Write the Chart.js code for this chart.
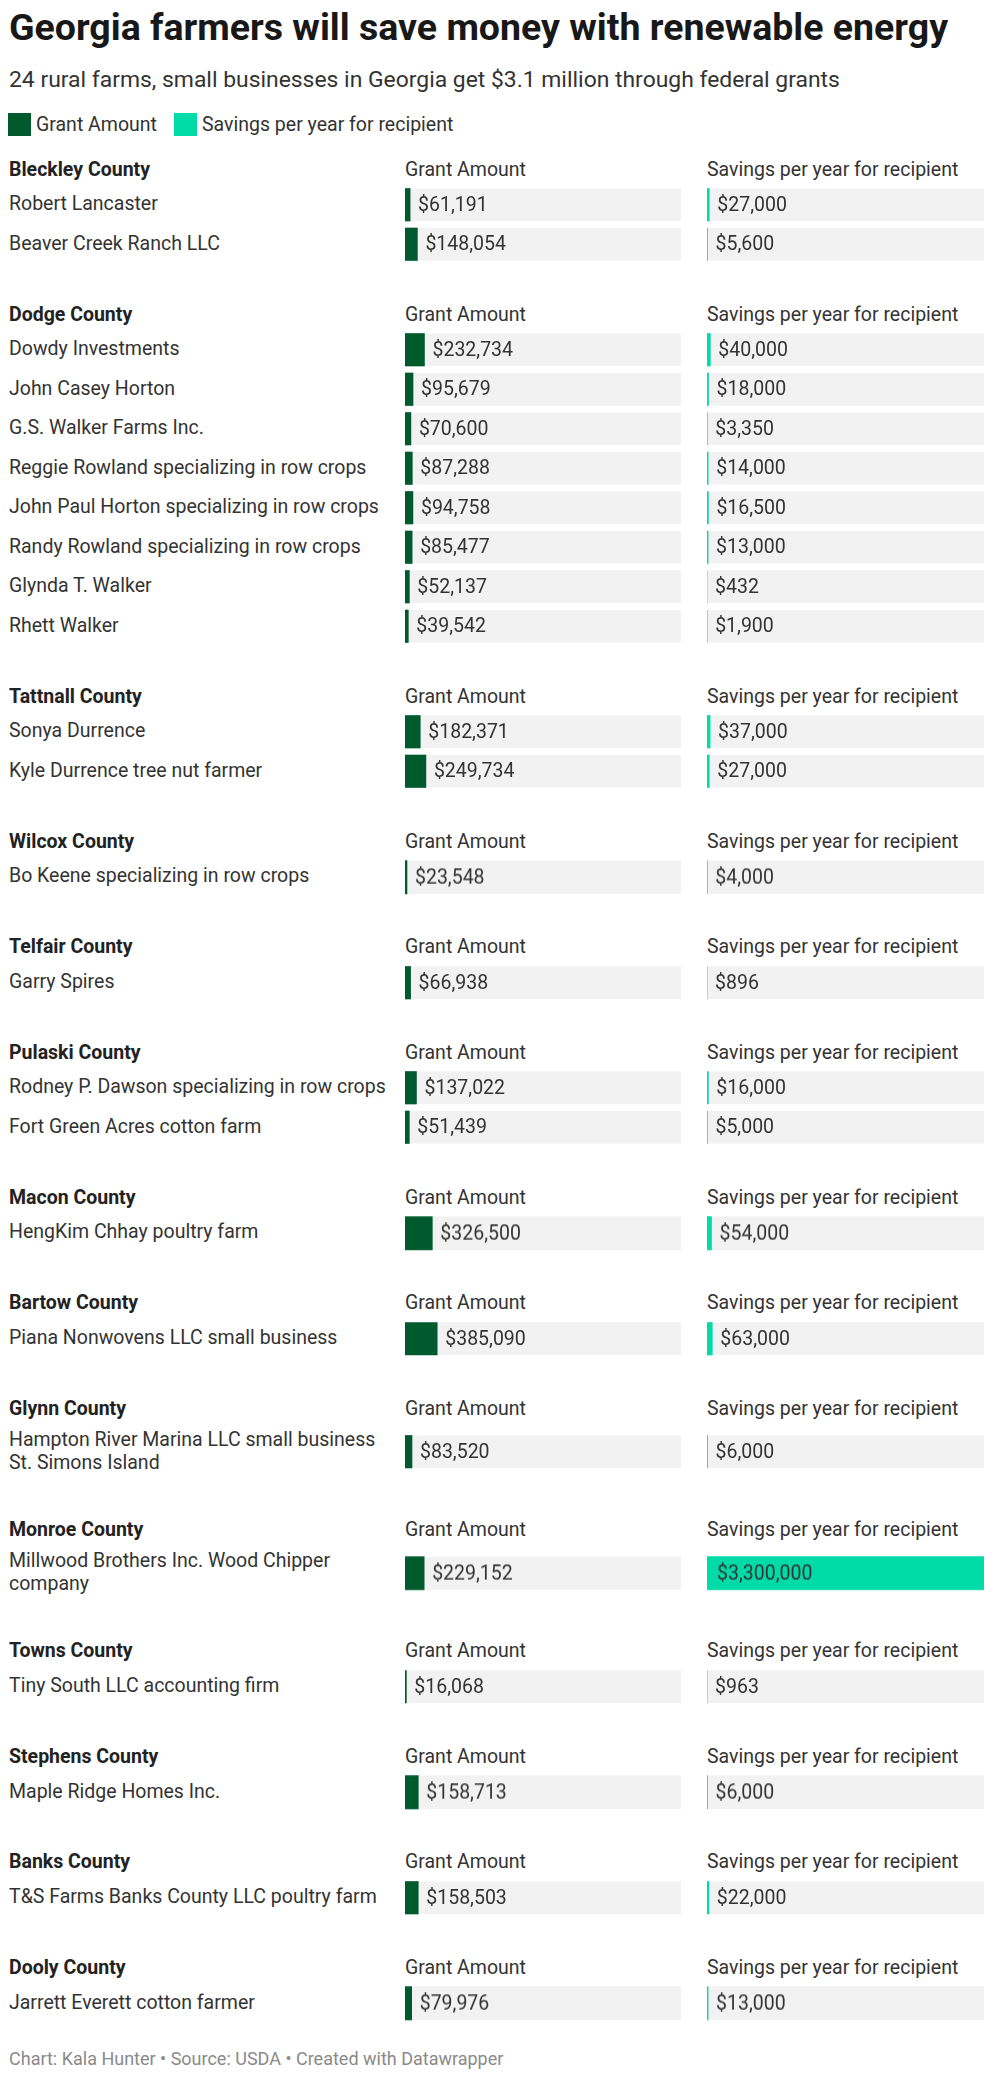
<!DOCTYPE html>
<html>
<head>
<meta charset="utf-8">
<script src="https://cdn.jsdelivr.net/npm/chart.js@4"></script>
<style>
    body { margin: 0; background: #fff; font-family: Roboto, sans-serif; color: #333; }
    #page { position: relative; width: 1000px; height: 2080px; overflow: hidden; }
    .title { position: absolute; left: 9px; top: 5px; font-size: 37.5px; font-weight: 700; line-height: 44px; color: #181818; white-space: nowrap; }
    .subtitle { position: absolute; left: 9px; top: 66px; font-size: 22.9px; line-height: 28px; color: #333; white-space: nowrap; }
    .legend { position: absolute; left: 8px; top: 113px; height: 23px; font-size: 19.5px; line-height: 23px; color: #333; }
    .legend span.sw { position: absolute; top: 0; width: 23px; height: 23px; }
    .legend span.tx { position: absolute; top: 0; white-space: nowrap; }
    #sections { position: absolute; left: 0; top: 153.5px; width: 1000px; }
    .section { margin-bottom: 34.5px; }
    .shead { position: relative; height: 31.5px; line-height: 31.5px; font-size: 19.5px; }
    .shead .county { position: absolute; left: 9px; font-weight: 700; color: #222; }
    .shead .ch { position: absolute; white-space: nowrap; color: #333; }
    .c1 { left: 405px; }
    .c2 { left: 707px; }
    .sbody { position: relative; }
    .labels { margin-left: 9px; width: 386px; }
    .row { display: flex; align-items: center; box-sizing: border-box; min-height: 39.5px; padding: 5px 0; font-size: 19.5px; line-height: 22.7px; color: #333; }
    .cwrap { position: absolute; top: 0; bottom: 0; }
    .cwrap.c1 { width: 276px; }
    .cwrap.c2 { width: 277px; }
    .footer { position: relative; font-size: 18px; line-height: 20px; color: #8a8a8a; padding-left: 9px; margin-top: -8px; white-space: nowrap; }
</style>
</head>
<body>
<div id="page">
    <div class="title">Georgia farmers will save money with renewable energy</div>
    <div class="subtitle">24 rural farms, small businesses in Georgia get $3.1 million through federal grants</div>
    <div class="legend">
        <span class="sw" style="left:0;background:#005a2e"></span><span class="tx" style="left:28px">Grant Amount</span>
        <span class="sw" style="left:166px;background:#00dba7"></span><span class="tx" style="left:194px">Savings per year for recipient</span>
    </div>
    <div id="sections"></div>
</div>

<script>
const counties = ['Bleckley County', 'Dodge County', 'Tattnall County', 'Wilcox County', 'Telfair County',
    'Pulaski County', 'Macon County', 'Bartow County', 'Glynn County', 'Monroe County',
    'Towns County', 'Stephens County', 'Banks County', 'Dooly County'];

// county index for each recipient
const countyOf = [0, 0, 1, 1, 1, 1, 1, 1, 1, 1, 2, 2, 3, 4, 5, 5, 6, 7, 8, 9, 10, 11, 12, 13];

const recipients = [
    'Robert Lancaster', 'Beaver Creek Ranch LLC',
    'Dowdy Investments', 'John Casey Horton', 'G.S. Walker Farms Inc.',
    'Reggie Rowland specializing in row crops', 'John Paul Horton specializing in row crops',
    'Randy Rowland specializing in row crops', 'Glynda T. Walker', 'Rhett Walker',
    'Sonya Durrence', 'Kyle Durrence tree nut farmer',
    'Bo Keene specializing in row crops',
    'Garry Spires',
    'Rodney P. Dawson specializing in row crops', 'Fort Green Acres cotton farm',
    'HengKim Chhay poultry farm',
    'Piana Nonwovens LLC small business',
    'Hampton River Marina LLC small business St. Simons Island',
    'Millwood Brothers Inc. Wood Chipper company',
    'Tiny South LLC accounting firm',
    'Maple Ridge Homes Inc.',
    'T&S Farms Banks County LLC poultry farm',
    'Jarrett Everett cotton farmer'
];

const grantAmounts = [61191, 148054, 232734, 95679, 70600, 87288, 94758, 85477, 52137, 39542,
    182371, 249734, 23548, 66938, 137022, 51439, 326500, 385090, 83520, 229152,
    16068, 158713, 158503, 79976];

const yearlySavings = [27000, 5600, 40000, 18000, 3350, 14000, 16500, 13000, 432, 1900,
    37000, 27000, 4000, 896, 16000, 5000, 54000, 63000, 6000, 3300000,
    963, 6000, 22000, 13000];

const columnTitles = ['Grant Amount', 'Savings per year for recipient'];
const columnColors = ['#005a2e', '#00dba7'];

const VALUE_FONT = '19.5px Roboto, sans-serif';
const TRACK_COLOR = '#f2f2f2';

// both columns share one scale
const scaleMax = Math.max(...grantAmounts, ...yearlySavings);

const fmtMoney = v => '$' + v.toLocaleString('en-US');

// grey track behind each bar + value label after (or inside) it
const trackPlugin = {
    id: 'track',
    beforeDatasetsDraw(chart) {
        const { ctx, chartArea } = chart;
        const meta = chart.getDatasetMeta(0);
        ctx.save();
        ctx.fillStyle = TRACK_COLOR;
        meta.data.forEach(bar => {
            ctx.fillRect(chartArea.left, bar.y - bar.height / 2, chartArea.width, bar.height);
        });
        ctx.restore();
    },
    afterDatasetsDraw(chart) {
        const { ctx } = chart;
        const meta = chart.getDatasetMeta(0);
        const values = chart.data.datasets[0].data;
        ctx.save();
        ctx.font = VALUE_FONT;
        ctx.fillStyle = '#333';
        ctx.textBaseline = 'middle';
        ctx.textAlign = 'left';
        meta.data.forEach((bar, i) => {
            const text = fmtMoney(values[i]);
            const w = ctx.measureText(text).width;
            const barW = bar.x - bar.base;
            const x = barW > w + 20 ? bar.base + 10 : bar.x + 8;
            ctx.fillText(text, x, bar.y + 1);
        });
        ctx.restore();
    }
};

function makeBarChart(canvas, labels, values, color) {
    return new Chart(canvas, {
        type: 'bar',
        data: {
            labels: labels,
            datasets: [{
                data: values,
                backgroundColor: color,
                borderWidth: 0,
                barThickness: 32.5
            }]
        },
        options: {
            indexAxis: 'y',
            responsive: true,
            maintainAspectRatio: false,
            animation: false,
            layout: { padding: 0 },
            plugins: {
                legend: { display: false },
                tooltip: { enabled: false }
            },
            scales: {
                x: { display: false, min: 0, max: scaleMax },
                y: { display: false }
            }
        },
        plugins: [trackPlugin]
    });
}

function buildSections() {
    const holder = document.getElementById('sections');

    counties.forEach((county, ci) => {
        const idx = [];
        countyOf.forEach((c, i) => { if (c === ci) idx.push(i); });

        const section = document.createElement('div');
        section.className = 'section';
        section.innerHTML = `
            <div class="shead">
                <div class="county">${county}</div>
                <div class="ch c1">${columnTitles[0]}</div>
                <div class="ch c2">${columnTitles[1]}</div>
            </div>
            <div class="sbody">
                <div class="labels">${idx.map(i => `<div class="row">${recipients[i].replace('&', '&amp;')}</div>`).join('')}</div>
                <div class="cwrap c1"><canvas></canvas></div>
                <div class="cwrap c2"><canvas></canvas></div>
            </div>`;
        holder.appendChild(section);

        const canvases = section.querySelectorAll('canvas');
        const names = idx.map(i => recipients[i]);
        makeBarChart(canvases[0], names, idx.map(i => grantAmounts[i]), columnColors[0]);
        makeBarChart(canvases[1], names, idx.map(i => yearlySavings[i]), columnColors[1]);
    });

    const footer = document.createElement('div');
    footer.className = 'footer';
    footer.textContent = 'Chart: Kala Hunter • Source: USDA • Created with Datawrapper';
    holder.appendChild(footer);
}

document.addEventListener('DOMContentLoaded', buildSections);
</script>
</body>
</html>
